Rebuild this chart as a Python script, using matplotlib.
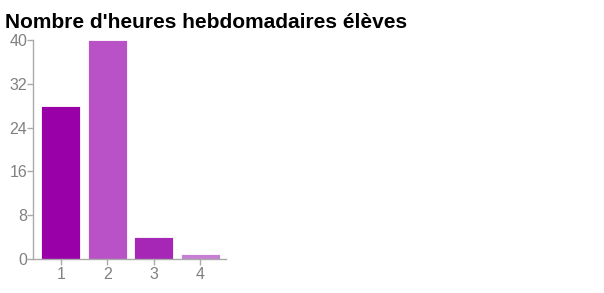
import matplotlib.pyplot as plt

# Data
categories = ['1', '2', '3', '4']
values = [28, 40, 4, 1]
colors = ['#9a00a8', '#b852c6', '#a626b5', '#c77fd6']
yticks = [0, 8, 16, 24, 32, 40]

plt.rcParams['font.family'] = ['Liberation Sans', 'DejaVu Sans']

fig = plt.figure(figsize=(6.04, 2.93), dpi=100)
ax = fig.add_axes([33 / 604, 1 - 259 / 293, 193 / 604, 219 / 293])

x = list(range(1, len(categories) + 1))
ax.bar(x, values, width=0.84, color=colors, edgecolor='white', linewidth=0.6)

ax.set_xlim(0.4, 4.56)
ax.set_ylim(0, 40)
ax.set_xticks(x)
ax.set_xticklabels(categories)
ax.set_yticks(yticks)

for side in ['top', 'right']:
    ax.spines[side].set_visible(False)
for side in ['left', 'bottom']:
    ax.spines[side].set_color('#aaaaaa')
    ax.spines[side].set_linewidth(1)
ax.tick_params(axis='both', colors='#aaaaaa', labelcolor='#808080',
               labelsize=11.5, length=4, width=1)
ax.tick_params(axis='y', pad=0)
ax.tick_params(axis='x', pad=2)

fig.text(5 / 604, 1 - 22 / 293, "Nombre d'heures hebdomadaires élèves",
         fontsize=15, fontweight='bold', va='center', ha='left')

fig.savefig('out.png', dpi=100)
